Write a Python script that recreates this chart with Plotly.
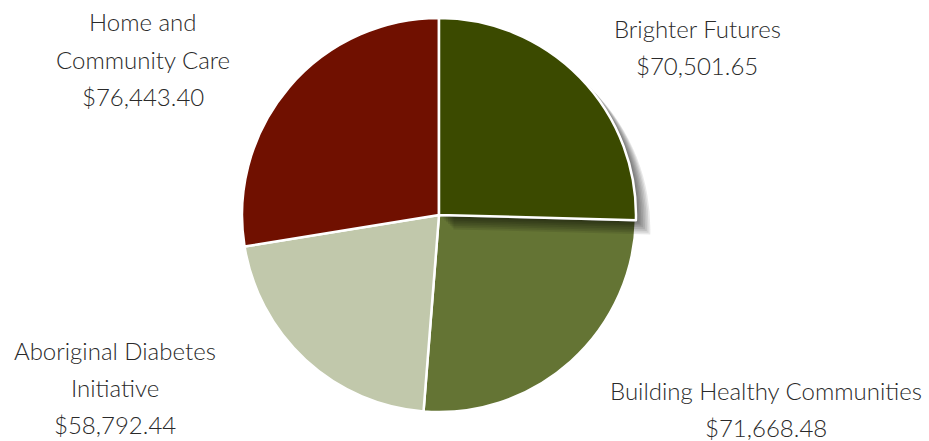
import plotly.graph_objects as go

names_display = ["Brighter Futures", "Building Healthy Communities", "Aboriginal Diabetes<br>Initiative", "Home and<br>Community Care"]
amounts = [70501.65, 71668.48, 58792.44, 76443.40]
colors = ["#3b4a00", "#647434", "#c1c8ab", "#701000"]

W, H = 929, 441
cx, cy, r = 439, 215, 197

def dom(dx=0, dy=0):
    x0 = (cx - r + dx) / W
    x1 = (cx + r + dx) / W
    y0 = (H - (cy + r) - dy) / H
    y1 = (H - (cy - r) - dy) / H
    return dict(x=[x0, x1], y=[y0, y1])

fig = go.Figure()
common = dict(labels=names_display, values=amounts, sort=False, direction="clockwise",
              rotation=0, textinfo="none", showlegend=False)

# base pie
fig.add_trace(go.Pie(**common, domain=dom(), hoverinfo="label+value",
                     marker=dict(colors=colors, line=dict(color="white", width=2.5))))

# shadow of first slice
n = 8
for k in range(n, 0, -1):
    off = k * 1.8
    a = 0.09
    shade = ["rgba(0,0,0,%.3f)" % a] + ["rgba(0,0,0,0)"] * 3
    fig.add_trace(go.Pie(**common, domain=dom(off, off), hoverinfo="skip",
                         marker=dict(colors=shade, line=dict(width=0))))

# top copy of first slice
top = [colors[0]] + ["rgba(0,0,0,0)"] * 3
fig.add_trace(go.Pie(**common, domain=dom(), hoverinfo="label+value",
                     marker=dict(colors=top, line=dict(color=["white", "rgba(0,0,0,0)", "rgba(0,0,0,0)", "rgba(0,0,0,0)"], width=[2.5, 0, 0, 0]))))

# labels: one annotation per line
label_pos = [(697, 28), (766, 390), (115, 350), (143, 22)]
line_gap = 37
for name, amt, (lx, ly) in zip(names_display, amounts, label_pos):
    lines = name.split("<br>") + ["${:,.2f}".format(amt)]
    for i, t in enumerate(lines):
        fig.add_annotation(x=lx / W, y=1 - (ly + i * line_gap) / H, xref="paper", yref="paper",
                           text=t, showarrow=False, xanchor="center", yanchor="middle",
                           font=dict(family="Lato", size=24, weight=300, color="#2a2a2a"))

fig.update_layout(width=W, height=H, margin=dict(l=0, r=0, t=0, b=0),
                  paper_bgcolor="white", plot_bgcolor="rgba(0,0,0,0)")

fig.write_html("out.html", config={"displayModeBar": False},
               post_script="document.body.style.margin='0';")
